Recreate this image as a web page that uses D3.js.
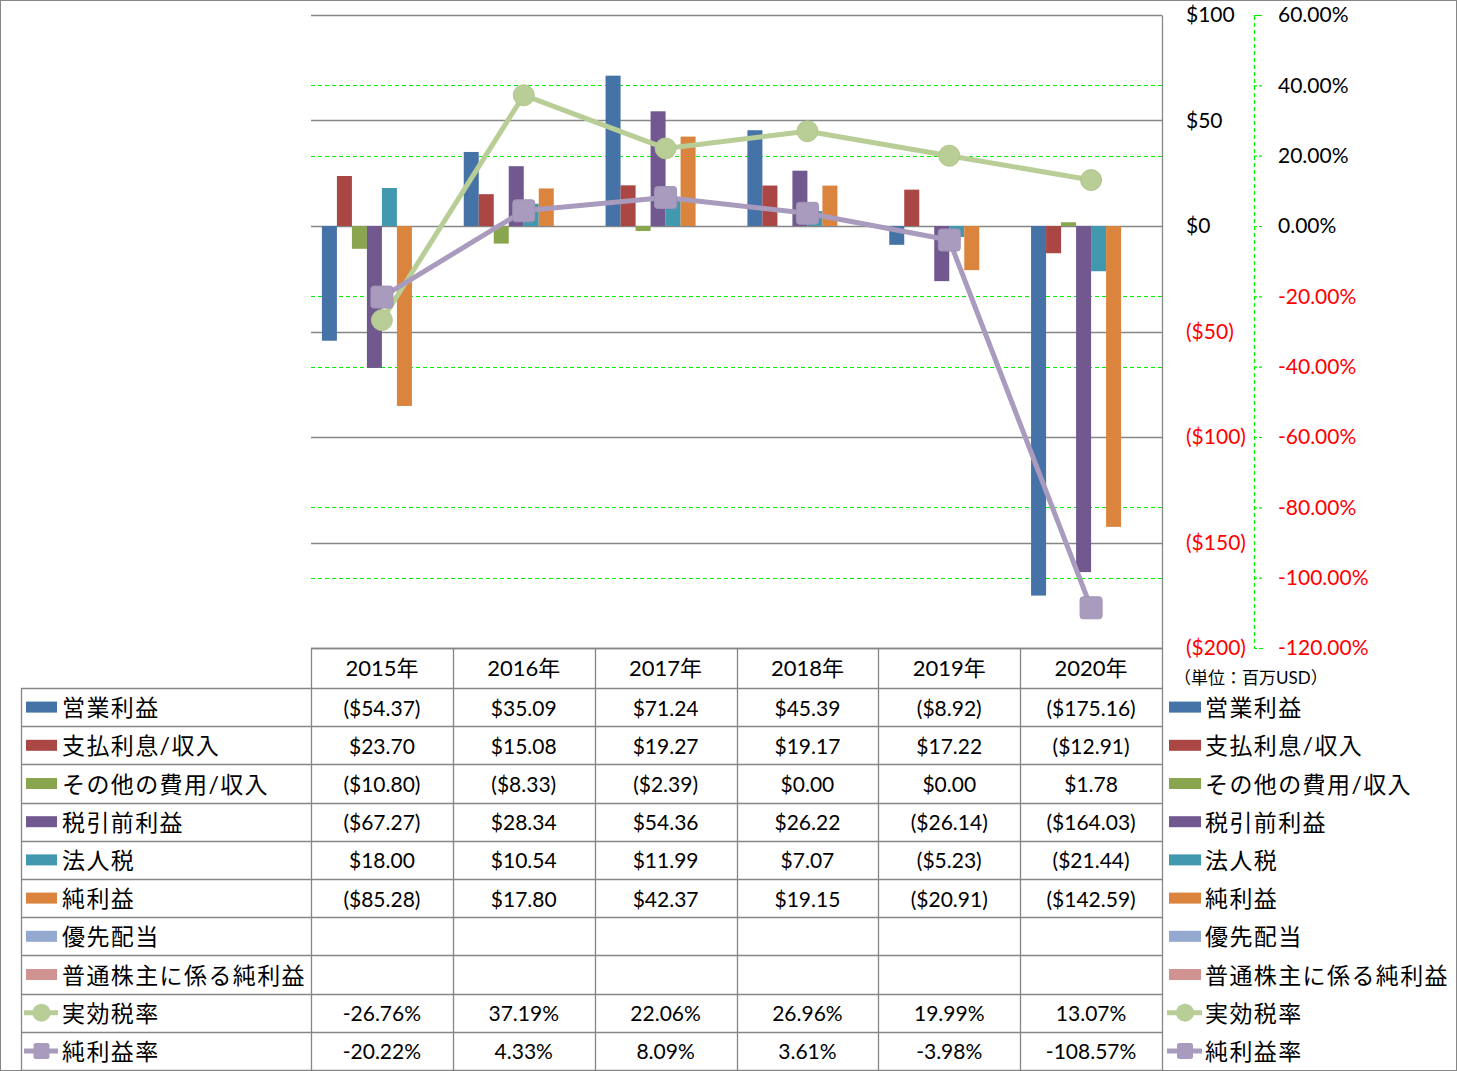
<!DOCTYPE html>
<html><head><meta charset="utf-8">
<script src="https://cdn.jsdelivr.net/npm/d3@7"></script>
<style>
html,body{margin:0;padding:0;background:#fff;}
svg{display:block;}
text{font-family:"Lato","Noto Sans CJK JP",sans-serif;}
</style></head>
<body>
<svg id="c" width="1457" height="1071"></svg>
<script>
// ---------- data ----------
const years = ["2015年","2016年","2017年","2018年","2019年","2020年"];
const barSeriesNames = ["営業利益","支払利息/収入","その他の費用/収入","税引前利益","法人税","純利益","優先配当","普通株主に係る純利益"];
const operatingIncome = [-54.37, 35.09, 71.24, 45.39, -8.92, -175.16];
const interestIncome  = [23.70, 15.08, 19.27, 19.17, 17.22, -12.91];
const otherExpense    = [-10.80, -8.33, -2.39, 0.00, 0.00, 1.78];
const pretaxIncome    = [-67.27, 28.34, 54.36, 26.22, -26.14, -164.03];
const incomeTax       = [18.00, 10.54, 11.99, 7.07, -5.23, -21.44];
const netIncome       = [-85.28, 17.80, 42.37, 19.15, -20.91, -142.59];
const preferredDiv    = [null, null, null, null, null, null];
const commonNetIncome = [null, null, null, null, null, null];
const lineSeriesNames = ["実効税率","純利益率"];
const effectiveTaxRate = [-26.76, 37.19, 22.06, 26.96, 19.99, 13.07];
const netMargin        = [-20.22, 4.33, 8.09, 3.61, -3.98, -108.57];
const dollarTicks = [100, 50, 0, -50, -100, -150, -200];
const pctTicks = [60, 40, 20, 0, -20, -40, -60, -80, -100, -120];
const unitLabel = "（単位：百万USD）";

const barColors = ["#4572A7","#AA4643","#89A54E","#71588F","#4198AF","#DB843D","#93A9CF","#D19392"];
const lineColors = ["#B9CD96","#A99BBD"];
const barData = [operatingIncome, interestIncome, otherExpense, pretaxIncome, incomeTax, netIncome, preferredDiv, commonNetIncome];
const lineData = [effectiveTaxRate, netMargin];

// ---------- layout ----------
const svg = d3.select("#c");
const L = 311, R = 1162, T = 15, B = 648;
const tableLeft = 21;
const rowTop = 688, rowH = 38.2;
const gridGray = "#868686";
const green = "#00F000";

svg.append("rect").attr("x",0.5).attr("y",0.5).attr("width",1456).attr("height",1070)
  .attr("fill","#fff").attr("stroke",gridGray).attr("stroke-width",1);

const x = d3.scaleBand().domain(years).range([L, R]).paddingInner(0).paddingOuter(0);
const xs = d3.scaleBand().domain(barSeriesNames).range([0, x.bandwidth()]).paddingInner(0).paddingOuter(0.727);
const yL = d3.scaleLinear().domain([-200, 100]).range([B, T]);
const yR = d3.scaleLinear().domain([-120, 60]).range([B, T]);

// green dashed gridlines (secondary) - skip where they coincide with primary gridlines
const grayYs = dollarTicks.map(d => yL(d));
svg.append("g").selectAll("line").data(pctTicks.filter(p => !grayYs.some(g => Math.abs(g - yR(p)) < 1.5))).join("line")
  .attr("x1", L).attr("x2", R).attr("y1", d => Math.round(yR(d))+0.5).attr("y2", d => Math.round(yR(d))+0.5)
  .attr("stroke", green).attr("stroke-width", 1.2).attr("stroke-dasharray", "4,3");
// gray gridlines (primary)
svg.append("g").selectAll("line").data(dollarTicks).join("line")
  .attr("x1", L).attr("x2", R).attr("y1", d => Math.round(yL(d))+0.5).attr("y2", d => Math.round(yL(d))+0.5)
  .attr("stroke", gridGray).attr("stroke-width", 1.3);

// bars
barData.forEach((arr, si) => {
  svg.append("g").selectAll("rect").data(years.map((yv, i) => ({yv, v: arr[i]})).filter(d => d.v !== null))
    .join("rect")
    .attr("x", d => x(d.yv) + xs(barSeriesNames[si]))
    .attr("width", xs.bandwidth())
    .attr("y", d => Math.min(yL(d.v), yL(0)))
    .attr("height", d => Math.abs(yL(d.v) - yL(0)))
    .attr("fill", barColors[si]);
});

// lines
const cx = yv => x(yv) + x.bandwidth() / 2;
lineData.forEach((arr, li) => {
  const pts = years.map((yv, i) => ({yv, v: arr[i]}));
  svg.append("path").datum(pts)
    .attr("d", d3.line().x(d => cx(d.yv)).y(d => yR(d.v)))
    .attr("fill", "none").attr("stroke", lineColors[li]).attr("stroke-width", 5).attr("stroke-linejoin","round");
  const g = svg.append("g");
  if (li === 0) {
    g.selectAll("circle").data(pts).join("circle")
      .attr("cx", d => cx(d.yv)).attr("cy", d => yR(d.v)).attr("r", 10.5)
      .attr("fill", lineColors[0]).attr("stroke", "#B0C78A").attr("stroke-width", 1);
  } else {
    g.selectAll("rect").data(pts).join("rect")
      .attr("x", d => cx(d.yv) - 11).attr("y", d => yR(d.v) - 11).attr("width", 22).attr("height", 22)
      .attr("rx", 3).attr("fill", lineColors[1]).attr("stroke", "#A093B8").attr("stroke-width", 1);
  }
});

// primary axis (right side of plot)
const axL = d3.axisRight(yL).tickValues(dollarTicks).tickSize(0).tickPadding(24)
  .tickFormat(v => v < 0 ? "($" + Math.abs(v) + ")" : "$" + v);
const gL = svg.append("g").attr("transform", `translate(${R},0)`).call(axL);
gL.select(".domain").attr("stroke", gridGray).attr("stroke-width", 1.3);
gL.selectAll("text").attr("font-size", 21).attr("font-family", "Lato")
  .attr("fill", d => d < 0 ? "#FF0000" : "#000");

// secondary axis
const axR = d3.axisRight(yR).tickValues(pctTicks).tickSize(9).tickPadding(15)
  .tickFormat(v => v.toFixed(2) + "%");
const gR = svg.append("g").attr("transform", `translate(1254,0)`).call(axR);
gR.select(".domain").attr("stroke", green).attr("stroke-width", 1.2).attr("stroke-dasharray", "4,3");
gR.selectAll(".tick line").attr("stroke", green).attr("stroke-width", 1.2).attr("stroke-dasharray", "3,2");
gR.selectAll("text").attr("font-size", 21).attr("font-family", "Lato")
  .attr("fill", d => d < 0 ? "#FF0000" : "#000");

svg.append("text").attr("x", 1174).attr("y", 677).attr("dominant-baseline","central")
  .attr("font-size", 17).attr("font-family", "Noto Sans CJK JP").attr("fill","#000").text(unitLabel);

// ---------- data table ----------
const allNames = barSeriesNames.concat(lineSeriesNames);
const allData = barData.concat(lineData);
const nRows = allNames.length;
const bottom = rowTop + rowH * nRows;
const tg = svg.append("g");
tg.append("line").attr("x1", L).attr("x2", R).attr("y1", B + 0.5).attr("y2", B + 0.5).attr("stroke", gridGray).attr("stroke-width", 1.3);
for (let r = 0; r <= nRows; r++) {
  const yy = Math.round(rowTop + rowH * r) + 0.5;
  tg.append("line").attr("x1", tableLeft).attr("x2", R).attr("y1", yy).attr("y2", yy).attr("stroke", gridGray).attr("stroke-width", 1.3);
}
tg.append("line").attr("x1", tableLeft + 0.5).attr("x2", tableLeft + 0.5).attr("y1", rowTop).attr("y2", bottom).attr("stroke", gridGray).attr("stroke-width", 1.3);
years.forEach(yv => {
  const xx = Math.round(x(yv)) + 0.5;
  tg.append("line").attr("x1", xx).attr("x2", xx).attr("y1", B).attr("y2", bottom).attr("stroke", gridGray).attr("stroke-width", 1.3);
});
tg.append("line").attr("x1", R + 0.5).attr("x2", R + 0.5).attr("y1", B).attr("y2", bottom).attr("stroke", gridGray).attr("stroke-width", 1.3);

// header
tg.selectAll("text.hdr").data(years).join("text").attr("class","hdr")
  .attr("x", d => cx(d)).attr("y", (B + rowTop) / 2 - 1).attr("text-anchor","middle").attr("dominant-baseline","central")
  .attr("font-size", 22).attr("fill","#000").text(d => d);

const fmtD = v => v < 0 ? "($" + Math.abs(v).toFixed(2) + ")" : "$" + v.toFixed(2);
const fmtP = v => v.toFixed(2) + "%";

function legendKey(g, idx, x0, x1, yc) {
  if (idx < barSeriesNames.length) {
    g.append("rect").attr("x", x0).attr("y", yc - 5.5).attr("width", x1 - x0).attr("height", 11).attr("fill", barColors[idx]);
  } else {
    const li = idx - barSeriesNames.length;
    g.append("line").attr("x1", x0 - 2).attr("x2", x1 + 1).attr("y1", yc).attr("y2", yc).attr("stroke", lineColors[li]).attr("stroke-width", 5);
    const mc = (x0 + x1) / 2;
    if (li === 0) g.append("circle").attr("cx", mc).attr("cy", yc).attr("r", 9).attr("fill", lineColors[0]);
    else g.append("rect").attr("x", mc - 8).attr("y", yc - 8).attr("width", 16).attr("height", 16).attr("rx", 2.5).attr("fill", lineColors[1]);
  }
}

allNames.forEach((name, r) => {
  const yc = rowTop + rowH * (r + 0.5);
  legendKey(tg, r, 26, 57, yc);
  tg.append("text").attr("x", 62).attr("y", yc).attr("dominant-baseline","central")
    .attr("font-family","Noto Sans CJK JP").attr("font-size", 23).attr("letter-spacing", 1.4).attr("fill","#000").text(name);
  legendKey(tg, r, 1169, 1201, yc);
  tg.append("text").attr("x", 1205).attr("y", yc).attr("dominant-baseline","central")
    .attr("font-family","Noto Sans CJK JP").attr("font-size", 23).attr("letter-spacing", 1.4).attr("fill","#000").text(name);
  const arr = allData[r];
  const isPct = r >= barSeriesNames.length;
  years.forEach((yv, i) => {
    const v = arr[i];
    if (v === null) return;
    tg.append("text").attr("x", cx(yv)).attr("y", yc).attr("text-anchor","middle").attr("dominant-baseline","central")
      .attr("font-size", 21).attr("fill","#000").text(isPct ? fmtP(v) : fmtD(v));
  });
});
</script>
</body></html>
